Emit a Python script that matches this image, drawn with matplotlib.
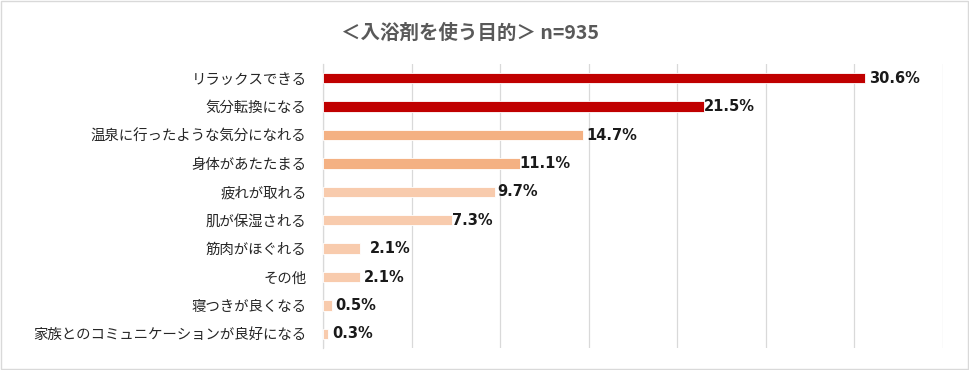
import matplotlib
matplotlib.use("Agg")
import matplotlib.pyplot as plt
from matplotlib.patches import Rectangle

plt.rcParams['font.family'] = ['Noto Sans CJK JP', 'DejaVu Sans']

# data
categories = ["リラックスできる", "気分転換になる", "温泉に行ったような気分になれる",
              "身体があたたまる", "疲れが取れる", "肌が保湿される", "筋肉がほぐれる",
              "その他", "寝つきが良くなる", "家族とのコミュニケーションが良好になる"]
values = [30.6, 21.5, 14.7, 11.1, 9.7, 7.3, 2.1, 2.1, 0.5, 0.3]
value_labels = ["30.6%", "21.5%", "14.7%", "11.1%", "9.7%", "7.3%", "2.1%", "2.1%", "0.5%", "0.3%"]
title = "＜入浴剤を使う目的＞ n=935"

# style
bar_colors = ["#C00000", "#C00000", "#F4B183", "#F4B183",
              "#F8CBAD", "#F8CBAD", "#F8CBAD", "#F8CBAD", "#F8CBAD", "#F8CBAD"]
label_offsets = [4, 0, 3, 0, 2, 0, 10, 4, 3, 4]  # px gap after bar end

fig = plt.figure(figsize=(9.7, 3.7), dpi=100)
ax = fig.add_axes([323 / 970, 22 / 370, 620 / 970, 284 / 370])

y = list(range(len(categories)))
ax.barh(y, values, height=0.36, color=bar_colors, edgecolor="white", linewidth=0.6, zorder=3)

for yi, v, lab, off in zip(y, values, value_labels, label_offsets):
    ax.annotate(lab, (v, yi), xytext=(off, 0), textcoords="offset pixels",
                ha="left", va="center", fontsize=10.5, fontweight="bold",
                family=["DejaVu Sans"], color="#1a1a1a", zorder=4)

ax.set_xlim(0, 35)
ax.set_ylim(len(categories) - 0.5, -0.5)
ax.set_xticks(range(0, 36, 5))
ax.set_xticklabels([])
ax.set_yticks(y)
ax.set_yticklabels(categories, fontsize=10.4, color="#262626")
ax.tick_params(axis="both", length=0, pad=12)
ax.grid(axis="x", color="#D9D9D9", linewidth=0.9, zorder=0)
for s in ["top", "right", "bottom"]:
    ax.spines[s].set_visible(False)
ax.spines["left"].set_color("#D9D9D9")
ax.spines["left"].set_linewidth(0.9)

fig.text(470 / 970, 1 - 33 / 370, title, ha="center", va="center",
         fontsize=14, fontweight="bold", color="#595959")

fig.patches.append(Rectangle((0.001, 0.002), 0.997, 0.995, transform=fig.transFigure,
                             fill=False, edgecolor="#D9D9D9", linewidth=1))

fig.savefig("out.png", dpi=100)
